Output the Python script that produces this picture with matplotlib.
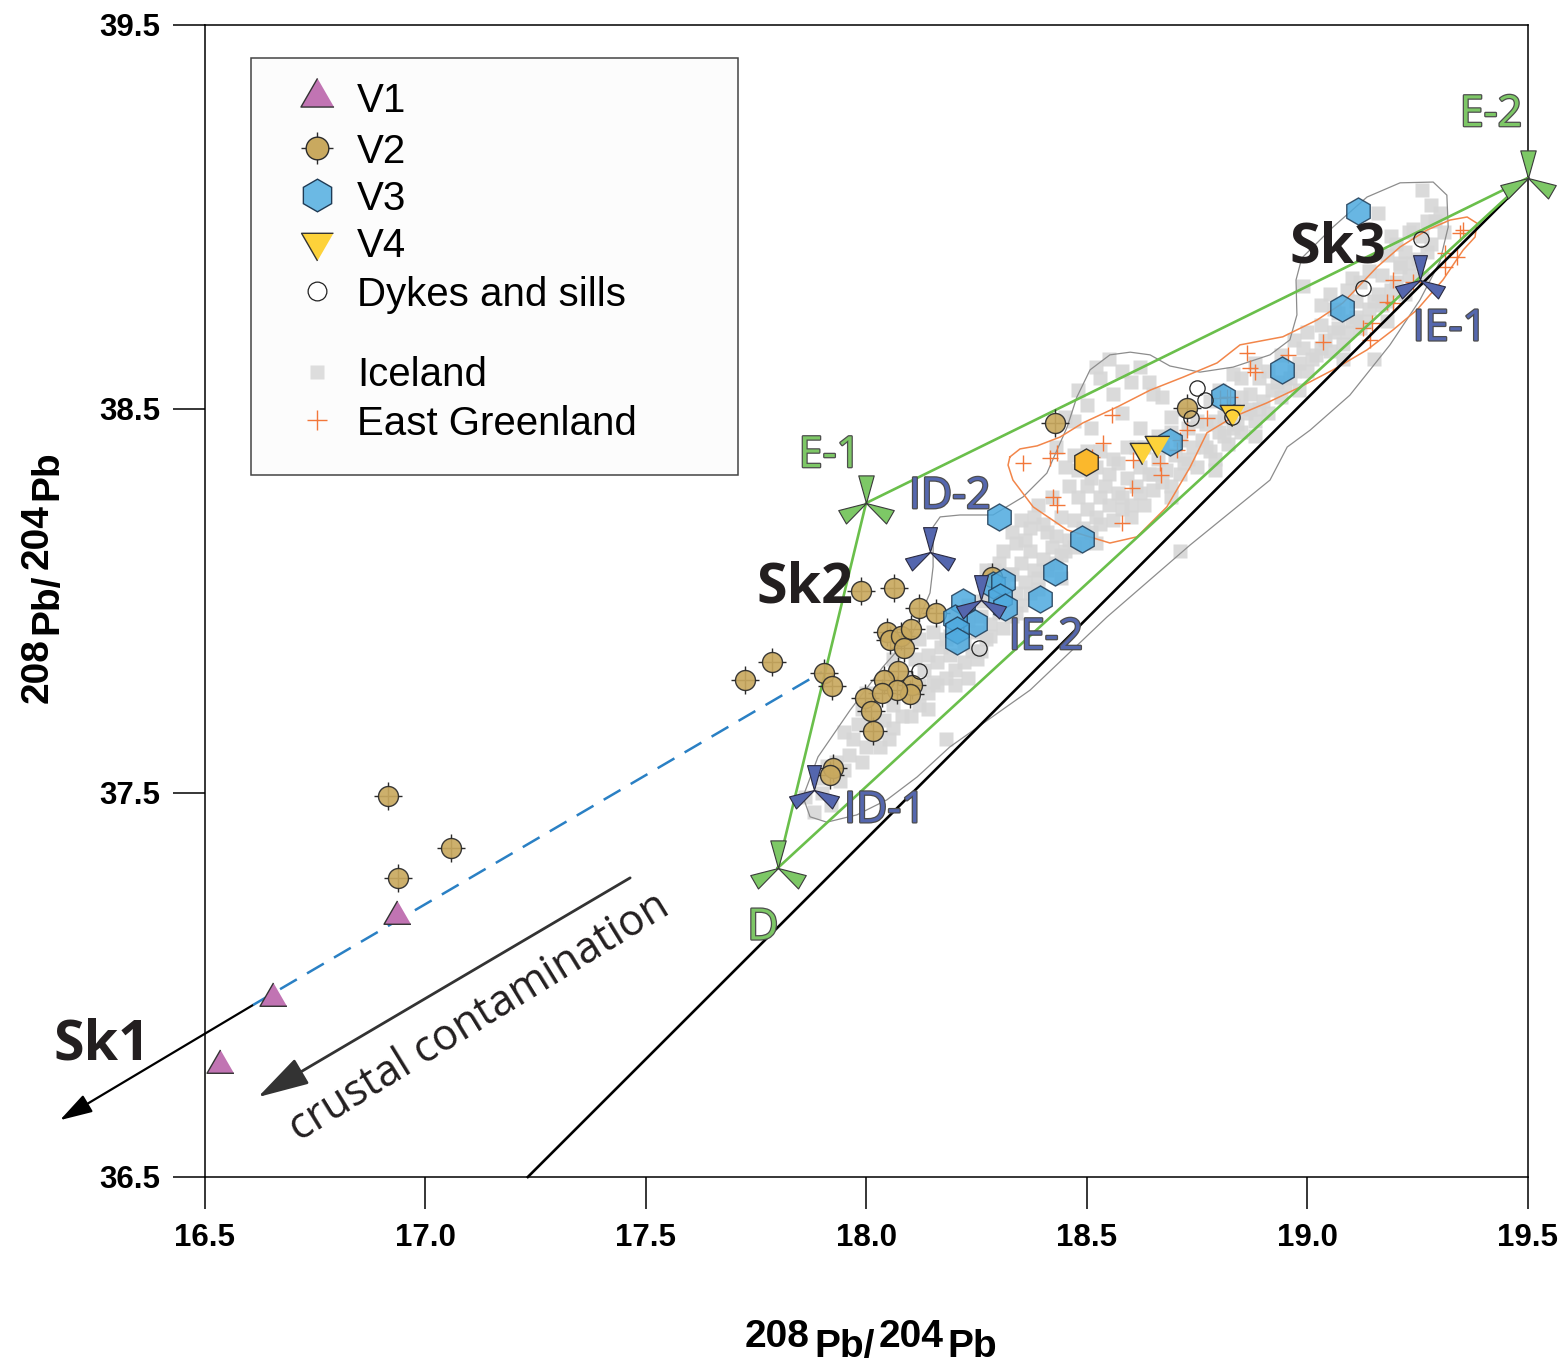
import numpy as np
import matplotlib
matplotlib.use("Agg")
import matplotlib.pyplot as plt
import matplotlib.patheffects as pe
from matplotlib.path import Path
from matplotlib.patches import Rectangle

# ---- data (208Pb/204Pb) ----
v1_x = [16.534, 16.654, 16.935]
v1_y = [36.792, 36.966, 37.180]

v2_x = [16.915, 17.058, 16.938, 17.724, 17.786, 17.904, 17.922, 17.988, 18.062, 18.119,
        18.158, 18.047, 18.053, 18.078, 18.101, 18.085, 18.071, 18.040, 18.103, 18.099,
        18.069, 17.997, 18.035, 18.010, 18.015, 18.285, 17.924, 17.917, 18.427, 18.727]
v2_y = [37.492, 37.357, 37.279, 37.794, 37.841, 37.813, 37.779, 38.026, 38.034, 37.982,
        37.969, 37.919, 37.898, 37.909, 37.927, 37.878, 37.818, 37.794, 37.781, 37.758,
        37.768, 37.747, 37.760, 37.714, 37.661, 38.063, 37.565, 37.547, 38.464, 38.503]

v3_x = [18.300, 18.489, 18.427, 18.393, 18.808, 18.688, 19.114, 19.078, 18.942,
        18.219, 18.287, 18.310, 18.303, 18.314, 18.246, 18.201, 18.205, 18.205]
v3_y = [38.219, 38.161, 38.076, 38.005, 38.531, 38.414, 39.016, 38.763, 38.602,
        37.997, 38.042, 38.049, 38.010, 37.984, 37.943, 37.956, 37.924, 37.896]

v3_gold_x = [18.498]
v3_gold_y = [38.362]

v4_x = [18.625, 18.659, 18.829]
v4_y = [38.393, 38.411, 38.492]

dyke_x = [18.749, 18.768, 18.736, 18.829, 19.257, 19.126, 18.255, 18.119]
dyke_y = [38.555, 38.523, 38.477, 38.479, 38.943, 38.815, 37.878, 37.818]

eg_x = [18.355, 18.416, 18.432, 18.536, 18.557, 18.511, 18.423, 18.432, 18.602, 18.579,
        18.666, 18.668, 18.604, 18.704, 18.711, 18.727, 18.772, 18.817, 18.802, 18.863,
        18.870, 18.881, 18.956, 19.035, 19.126, 19.142, 19.146, 19.180, 19.194, 19.194,
        19.239, 19.312, 19.339, 19.312, 19.353, 19.346, 18.824]
eg_y = [38.359, 38.372, 38.385, 38.411, 38.484, 38.375, 38.271, 38.250, 38.294, 38.203,
        38.359, 38.328, 38.367, 38.393, 38.419, 38.445, 38.477, 38.531, 38.529, 38.646,
        38.607, 38.596, 38.641, 38.674, 38.711, 38.680, 38.724, 38.779, 38.776, 38.836,
        38.831, 38.906, 38.896, 38.870, 38.966, 38.958, 38.531]

iceland_x = [17.88, 17.86, 17.90, 17.92, 17.89, 17.94, 17.93,
             17.96, 17.99, 17.97, 18.00, 18.02, 17.98, 18.01, 18.04, 18.05,
             18.06, 18.08, 18.07, 18.10, 18.12, 18.09, 18.13, 18.15, 18.11, 18.16, 18.18,
             18.17, 18.19, 18.20, 18.22, 18.24, 18.21, 18.25, 18.27, 18.26, 18.28, 18.30, 18.29, 18.23,
             18.32, 18.31, 18.34, 18.33, 18.36, 18.35, 18.38, 18.37, 18.40, 18.39, 18.42, 18.41, 18.44,
             18.43, 18.30, 18.27, 18.34,
             18.46, 18.47, 18.49, 18.50, 18.48, 18.52, 18.53, 18.55, 18.54, 18.57, 18.58, 18.59, 18.51,
             18.46, 18.71,
             18.61, 18.62, 18.64, 18.65, 18.66, 18.68, 18.67, 18.70, 18.72, 18.71, 18.74, 18.73, 18.69,
             18.50, 18.51, 18.55, 18.58, 18.60, 18.64, 18.65, 18.56, 18.53, 18.62, 18.47,
             18.76, 18.78, 18.77, 18.80, 18.82, 18.81, 18.84, 18.83, 18.86, 18.88, 18.87, 18.90, 18.89,
             18.92, 18.94, 18.83,
             18.96, 18.98, 19.00, 18.99, 19.02, 19.04, 19.03, 19.06, 19.08, 19.07, 19.10, 19.12, 19.11,
             19.14, 19.15, 18.99,
             19.16, 19.18, 19.17, 19.20, 19.21, 19.23, 19.22, 19.25, 19.26, 19.28, 19.29, 19.30, 19.16,
             19.26, 19.21,
             17.91, 17.95, 18.03, 18.06, 17.99, 18.03, 18.05,
             18.12, 18.14, 18.16, 18.18, 18.14, 18.19, 18.23, 18.26, 18.28, 18.22, 18.25,
             18.31, 18.33, 18.35, 18.37, 18.39, 18.41, 18.43, 18.45, 18.47, 18.36, 18.40, 18.44, 18.38,
             18.32, 18.29, 18.27,
             18.49, 18.51, 18.53, 18.56, 18.58, 18.60, 18.62, 18.63, 18.65, 18.67, 18.69, 18.52, 18.56,
             18.50, 18.61, 18.55, 18.48,
             18.71, 18.73, 18.75, 18.77, 18.79, 18.81, 18.83, 18.85, 18.87, 18.89, 18.91, 18.93, 18.95,
             18.97, 18.79, 18.85,
             19.01, 19.03, 19.05, 19.07, 19.09, 19.11, 19.13, 19.15, 19.17, 19.19, 19.22, 19.24, 19.27,
             19.19, 19.24, 19.28, 19.10, 19.05,
             18.48, 18.52, 18.58, 18.62, 18.67, 18.45, 18.43,
             18.18, 18.20, 18.23, 18.26, 18.29, 18.31, 18.33, 18.35, 18.37, 18.39,
             18.42, 18.45, 18.47, 18.50, 18.53, 18.57, 18.59, 18.63, 18.66, 18.69,
             18.72, 18.75, 18.78, 18.80, 18.85, 18.88, 18.91, 18.94, 18.97, 19.00,
             19.03, 19.06, 19.09, 19.12, 19.14, 19.18, 19.20, 19.23, 19.27, 19.31,
             18.06, 18.09, 18.12, 18.15, 17.95, 18.00, 18.10, 18.14, 18.20, 18.34,
             18.44, 18.52, 18.60, 18.69, 18.79, 18.88, 18.98, 19.08, 19.18, 19.26]
iceland_y = [37.45, 37.49, 37.50, 37.47, 37.54, 37.53, 37.58,
             37.60, 37.58, 37.64, 37.62, 37.66, 37.68, 37.70, 37.69, 37.64,
             37.73, 37.70, 37.77, 37.75, 37.78, 37.80, 37.82, 37.79, 37.85, 37.84, 37.64,
             37.88, 37.86, 37.82, 37.89, 37.87, 37.93, 37.92, 37.90, 37.96, 37.94, 37.97, 38.01, 37.80,
             37.99, 38.04, 38.02, 38.07, 38.05, 38.10, 38.08, 38.13, 38.11, 38.06, 38.14, 38.18, 38.12,
             38.17, 38.10, 38.08, 38.15,
             38.16, 38.21, 38.19, 38.24, 38.27, 38.22, 38.27, 38.25, 38.30, 38.28, 38.24, 38.32, 38.32,
             38.30, 38.13,
             38.30, 38.35, 38.33, 38.29, 38.37, 38.34, 38.40, 38.38, 38.36, 38.42, 38.40, 38.45, 38.44,
             38.51, 38.45, 38.63, 38.49, 38.57, 38.57, 38.54, 38.54, 38.58, 38.45, 38.47,
             38.42, 38.39, 38.46, 38.44, 38.41, 38.48, 38.46, 38.51, 38.49, 38.47, 38.54, 38.52, 38.58,
             38.55, 38.53, 38.59,
             38.58, 38.62, 38.60, 38.66, 38.64, 38.68, 38.72, 38.70, 38.67, 38.75, 38.73, 38.71, 38.78,
             38.76, 38.63, 38.82,
             38.80, 38.78, 38.85, 38.83, 38.87, 38.85, 38.91, 38.89, 38.95, 38.93, 38.99, 39.01, 39.01,
             39.07, 38.88,
             37.57, 37.56, 37.62, 37.67, 37.72, 37.76, 37.80,
             37.73, 37.76, 37.78, 37.80, 37.86, 37.91, 37.95, 37.87, 37.91, 37.84, 37.85,
             37.93, 37.96, 37.99, 38.02, 38.03, 38.08, 38.10, 38.13, 38.14, 38.16, 38.20, 38.22, 38.22,
             38.07, 38.05, 38.02,
             38.15, 38.18, 38.20, 38.21, 38.27, 38.25, 38.28, 38.25, 38.33, 38.31, 38.30, 38.35, 38.37,
             38.39, 38.40, 38.33, 38.34,
             38.33, 38.37, 38.35, 38.40, 38.37, 38.43, 38.45, 38.44, 38.50, 38.50, 38.49, 38.57, 38.56,
             38.60, 38.47, 38.53,
             38.63, 38.66, 38.65, 38.71, 38.70, 38.74, 38.73, 38.78, 38.77, 38.81, 38.80, 38.88, 38.91,
             38.95, 38.97, 39.03, 38.84, 38.80,
             38.55, 38.61, 38.60, 38.61, 38.53, 38.48, 38.40,
             37.90, 37.96, 37.99, 38.00, 38.08, 38.13, 38.18, 38.21, 38.19, 38.25,
             38.27, 38.35, 38.38, 38.30, 38.39, 38.36, 38.40, 38.40, 38.43, 38.48,
             38.50, 38.47, 38.52, 38.55, 38.58, 38.62, 38.60, 38.64, 38.68, 38.70,
             38.77, 38.76, 38.81, 38.83, 38.86, 38.90, 38.93, 38.96, 38.99, 38.96,
             37.85, 37.87, 37.90, 37.92, 37.66, 37.76, 37.70, 37.72, 37.78, 37.97,
             38.06, 38.15, 38.22, 38.27, 38.34, 38.43, 38.55, 38.63, 38.73, 38.84]

# field outlines
iceland_field_x = [17.856, 17.890, 17.963, 18.037, 18.105, 18.144, 18.151, 18.151, 18.167, 18.212,
                   18.287, 18.355, 18.409, 18.455, 18.477, 18.507, 18.552, 18.598, 18.643, 18.688,
                   18.756, 18.831, 18.915, 18.960, 18.976, 18.974, 18.987, 19.058, 19.135, 19.210,
                   19.285, 19.316, 19.319, 19.300, 19.255, 19.187, 19.096, 19.006, 18.954, 18.915,
                   18.734, 18.545, 18.371, 18.189, 18.115, 18.046, 17.978, 17.910, 17.872, 17.856]
iceland_field_y = [37.490, 37.594, 37.716, 37.828, 37.917, 38.021, 38.089, 38.193, 38.219, 38.224,
                   38.224, 38.271, 38.333, 38.453, 38.531, 38.602, 38.641, 38.648, 38.641, 38.612,
                   38.596, 38.609, 38.641, 38.680, 38.745, 38.836, 38.893, 38.974, 39.052, 39.089,
                   39.091, 39.057, 38.974, 38.883, 38.784, 38.667, 38.536, 38.445, 38.401, 38.315,
                   38.146, 37.958, 37.768, 37.620, 37.542, 37.482, 37.443, 37.424, 37.438, 37.490]

eg_field_x = [18.325, 18.348, 18.387, 18.439, 18.491, 18.568, 18.643, 18.718, 18.795, 18.847,
              18.944, 19.022, 19.080, 19.158, 19.210, 19.271, 19.323, 19.362, 19.384, 19.380,
              19.353, 19.307, 19.248, 19.194, 19.135, 19.058, 18.983, 18.908, 18.831, 18.772,
              18.734, 18.681, 18.613, 18.552, 18.455, 18.378, 18.332, 18.321, 18.325]
eg_field_y = [38.375, 38.396, 38.404, 38.427, 38.464, 38.505, 38.549, 38.583, 38.620, 38.667,
              38.688, 38.732, 38.776, 38.870, 38.922, 38.966, 38.992, 39.000, 38.984, 38.948,
              38.914, 38.836, 38.758, 38.706, 38.654, 38.602, 38.557, 38.516, 38.479, 38.438,
              38.349, 38.245, 38.167, 38.151, 38.185, 38.245, 38.315, 38.354, 38.375]

# end-members
em_green = {"D": (17.799, 37.305), "E-1": (17.999, 38.255), "E-2": (19.5, 39.102)}
em_blue = {"ID-1": (17.881, 37.508), "ID-2": (18.144, 38.128),
           "IE-1": (19.255, 38.836), "IE-2": (18.260, 38.003)}

nhrl_x = [17.232, 19.5]
nhrl_y = [36.5, 39.102]

mix_x = [16.609, 17.899]
mix_y = [36.948, 37.815]

x_ticks = [16.5, 17.0, 17.5, 18.0, 18.5, 19.0, 19.5]
y_ticks = [36.5, 37.5, 38.5, 39.5]

plt.rcParams['font.family'] = ['Liberation Sans', 'DejaVu Sans']
plt.rcParams['lines.scale_dashes'] = False

tri_up = [(0, 1), (-0.866, -0.5), (0.866, -0.5)]
tri_down = [(0, -1), (-0.866, 0.5), (0.866, 0.5)]


def propeller(half=0.28):
    verts, codes = [], []
    for ang in (90, 210, 330):
        a = np.deg2rad(ang)
        d = np.array([np.cos(a), np.sin(a)])
        n = np.array([-d[1], d[0]])
        verts += [(0, 0), tuple(d + half * n), tuple(d - half * n), (0, 0)]
        codes += [Path.MOVETO, Path.LINETO, Path.LINETO, Path.CLOSEPOLY]
    return Path(verts, codes)


prop = propeller()

fig = plt.figure(figsize=(15.67, 13.72), dpi=100)
ax = fig.add_axes([205 / 1567, 1 - 1177 / 1372, 1323 / 1567, 1152 / 1372])
ax.set_xlim(16.5, 19.5)
ax.set_ylim(36.5, 39.5)
ax.set_xticks(x_ticks)
ax.set_yticks(y_ticks)
ax.set_xticklabels([f"{t:.1f}" for t in x_ticks])
ax.set_yticklabels([f"{t:.1f}" for t in y_ticks])
ax.tick_params(direction='out', length=23, width=1.1, labelsize=22.5)
ax.tick_params(axis='x', pad=10)
ax.tick_params(axis='y', pad=9)
for lab in ax.get_xticklabels() + ax.get_yticklabels():
    lab.set_fontweight('bold')
for sp in ax.spines.values():
    sp.set_linewidth(1.1)

# background data
ax.plot(iceland_x, iceland_y, 's', ms=10.3, color='#d6d6d6', mec='none', alpha=0.9, zorder=1)
ax.plot(iceland_field_x, iceland_field_y, color='#8c8c8c', lw=0.9, zorder=2)
ax.plot(eg_field_x, eg_field_y, color='#f2864a', lw=1.1, zorder=2)
ax.plot(eg_x, eg_y, '+', ms=12, mew=1.0, color='#f2773a', zorder=3)

# reference lines
ax.plot(nhrl_x, nhrl_y, color='black', lw=1.9, zorder=4, clip_on=False)
d, e1, e2 = em_green["D"], em_green["E-1"], em_green["E-2"]
ax.plot([d[0], e1[0], e2[0], d[0]], [d[1], e1[1], e2[1], d[1]],
        color='#6abf4b', lw=1.9, zorder=4, clip_on=False)
ax.plot(mix_x, mix_y, color='#2a80c4', lw=1.8, dashes=(14, 8.5), zorder=4)

# samples
ax.plot(v2_x, v2_y, '+', ms=20, mew=1.0, color='#2b2b2b', zorder=5)
ax.plot(v2_x, v2_y, 'o', ms=14.4, mfc='#c9a95f', mec='#2b2b2b', mew=1.0, alpha=0.92, zorder=5.1)
ax.plot(v3_x, v3_y, 'h', ms=19.5, mfc='#4eaadf', mec='#1f3b55', mew=1.0, alpha=0.85, zorder=5.2)
ax.plot(v3_gold_x, v3_gold_y, 'h', ms=19.5, mfc='#fbb82c', mec='#333333', mew=1.0, zorder=5.2)
ax.plot(v1_x, v1_y, marker=tri_up, ls='none', ms=22.4, mfc='#c174b3', mec='#333333', mew=1.0,
        zorder=5.3, clip_on=False)
ax.plot(v4_x, v4_y, marker=tri_down, ls='none', ms=20.5, mfc='#fdd23a', mec='#333333', mew=1.0,
        zorder=5.4)
ax.plot(dyke_x, dyke_y, 'o', ms=11, mfc='none', mec='#222222', mew=0.9, zorder=5.5)

# end-member symbols and labels
outline = [pe.Stroke(linewidth=1.8, foreground='#4d4d4d'), pe.Normal()]
for name, (x, y) in em_green.items():
    ax.plot([x], [y], marker=prop, ms=40, mfc='#7dc866', mec='#3a3a3a', mew=0.8,
            ls='none', zorder=6, clip_on=False)
for name, (x, y) in em_blue.items():
    ax.plot([x], [y], marker=prop, ms=36, mfc='#5466ae', mec='#2a2a40', mew=0.8,
            ls='none', zorder=6)

label_pos = {"E-1": (17.917, 38.378), "E-2": (19.416, 39.266), "D": (17.765, 37.148),
             "ID-2": (18.189, 38.271), "IE-2": (18.407, 37.904),
             "ID-1": (18.042, 37.453), "IE-1": (19.323, 38.708)}
for name, (x, y) in label_pos.items():
    col = '#7dc766' if name in em_green else '#5567ae'
    ax.text(x, y, name, fontsize=31, family='Open Sans', color=col, ha='center', va='center',
            path_effects=outline, zorder=7)

sk_pos = {"Sk1": (16.266, 36.844), "Sk2": (17.861, 38.034), "Sk3": (19.069, 38.919)}
for name, (x, y) in sk_pos.items():
    ax.text(x, y, name, fontsize=40, family='Open Sans', fontweight='bold', color='#231f20',
            ha='center', va='center', zorder=7, clip_on=False)

# arrows
ax.annotate("", xy=(16.171, 36.648), xytext=(16.609, 36.948), annotation_clip=False,
            arrowprops=dict(arrowstyle='-|>,head_length=1.0,head_width=0.3', color='black',
                            lw=1.6, shrinkA=0, shrinkB=0, mutation_scale=20))
ax.annotate("", xy=(16.620, 36.708), xytext=(17.464, 37.279),
            arrowprops=dict(arrowstyle='-|>,head_length=1.6,head_width=0.45', color='#333333',
                            lw=2.0, shrinkA=0, shrinkB=0, mutation_scale=20))
ax.text(17.123, 36.915, "crustal contamination", fontsize=31, family='Open Sans',
        color='#231f20', rotation=31.6, rotation_mode='anchor', ha='center', va='center')

# legend box
ax.add_patch(Rectangle((0.0348, 0.6094), 0.3681, 0.3620, transform=ax.transAxes,
                       facecolor='#fcfcfc', edgecolor='#444444', lw=1.1, zorder=8))
legend_labels = ["V1", "V2", "V3", "V4", "Dykes and sills", "Iceland", "East Greenland"]
legend_rows = [0.9375, 0.8932, 0.8524, 0.8116, 0.7691, 0.6988, 0.6571]
legend_styles = [
    [dict(marker=tri_up, ms=27.5, mfc='#c174b3', mec='#333333', mew=1.0)],
    [dict(marker='+', ms=23, mew=1.0, color='#2b2b2b'),
     dict(marker='o', ms=16.3, mfc='#c9a95f', mec='#2b2b2b', mew=1.0)],
    [dict(marker='h', ms=23.5, mfc='#6bb9e4', mec='#1f3b55', mew=1.0)],
    [dict(marker=tri_down, ms=26.5, mfc='#fdd23a', mec='#333333', mew=1.0)],
    [dict(marker='o', ms=13.5, mfc='white', mec='#222222', mew=0.9)],
    [dict(marker='s', ms=9.6, mfc='#dddddd', mec='none')],
    [dict(marker='+', ms=14.5, mew=1.0, color='#f2773a')],
]
for lab, yr, styles in zip(legend_labels, legend_rows, legend_styles):
    for k, st in enumerate(styles):
        ax.plot([0.0847], [yr], ls='none', transform=ax.transAxes, zorder=9 + 0.1 * k, **st)
    ax.text(0.1149, yr - 0.0126, lab, transform=ax.transAxes, fontsize=29, va='baseline',
            ha='left', zorder=9)

# axis labels: 208Pb/204Pb with lowered "Pb"
pieces = [("Pb/", -7), ("204", 7), ("Pb", -7)]
t = fig.text(745 / 1567, 1 - 1347 / 1372, "208", fontsize=28, fontweight='bold',
             ha='left', va='baseline')
for s, dy in pieces:
    t = ax.annotate(s, xy=(1, 0), xycoords=t, xytext=(3, dy), textcoords='offset points',
                    ha='left', va='bottom', fontsize=28, fontweight='bold')

t = fig.text(48 / 1567, 1 - 703 / 1372, "208", fontsize=28, fontweight='bold', rotation=90,
             ha='left', va='baseline', rotation_mode='anchor')
for s, dy in pieces:
    t = ax.annotate(s, xy=(1, 1), xycoords=t, xytext=(-dy, 3), textcoords='offset points',
                    ha='right', va='bottom', rotation=90, fontsize=28, fontweight='bold')

fig.savefig("out.png", dpi=100)
